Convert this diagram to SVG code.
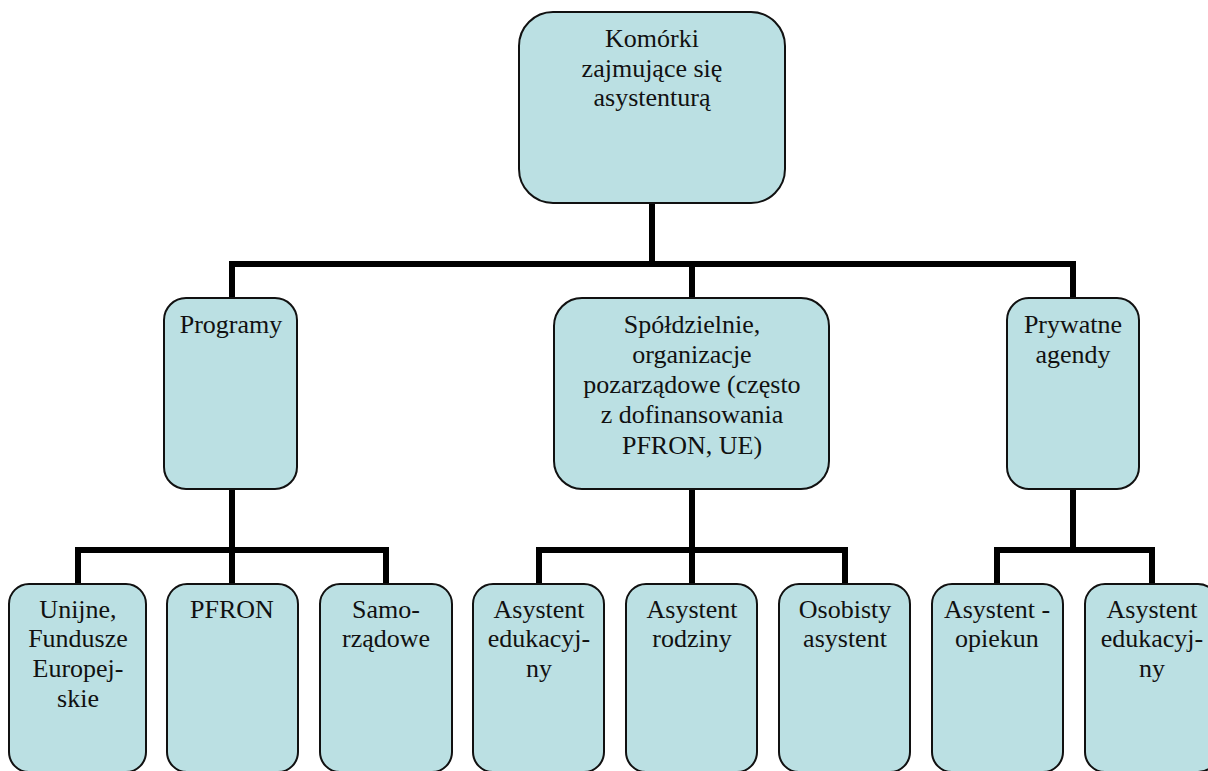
<svg xmlns="http://www.w3.org/2000/svg" width="1208" height="771" viewBox="0 0 1208 771">
  <style>
    .box { fill: #BBE0E3; stroke: #111; stroke-width: 2; }
    .lbl { font-size: 26px; fill: #111; text-anchor: middle; }
    .link { fill: none; stroke: #000; stroke-width: 6; stroke-linejoin: miter; stroke-linecap: butt; }
  </style>
  <rect width="1208" height="771" fill="#fff"/>

  <!-- connectors -->
  <g id="connectors">
    <path class="link" d="M652 203 V264"/>
    <path class="link" d="M232 298 V264 H1073 V298"/>
    <path class="link" d="M692 264 V298"/>
    <path class="link" d="M232 489 V550"/>
    <path class="link" d="M78 584 V550 H386 V584"/>
    <path class="link" d="M232 550 V584"/>
    <path class="link" d="M692 489 V550"/>
    <path class="link" d="M539 584 V550 H845 V584"/>
    <path class="link" d="M692 550 V584"/>
    <path class="link" d="M1073 489 V550"/>
    <path class="link" d="M997 584 V550 H1152 V584"/>
  </g>

  <g font-family="Liberation Serif, DejaVu Serif, serif">
  <!-- root -->
  <g id="root">
    <rect class="box" x="519" y="12" width="266" height="191" rx="34"/>
    <text class="lbl" x="652" y="47">Komórki</text>
    <text class="lbl" x="652" y="77">zajmujące się</text>
    <text class="lbl" x="652" y="106">asystenturą</text>
  </g>

  <!-- second level -->
  <g id="programy">
    <rect class="box" x="164" y="298" width="133" height="191" rx="22"/>
    <text class="lbl" x="231" y="333">Programy</text>
  </g>
  <g id="spoldzielnie">
    <rect class="box" x="554" y="298" width="275" height="191" rx="28"/>
    <text class="lbl" x="692" y="333">Spółdzielnie,</text>
    <text class="lbl" x="692" y="363">organizacje</text>
    <text class="lbl" x="692" y="393">pozarządowe (często</text>
    <text class="lbl" x="692" y="423">z dofinansowania</text>
    <text class="lbl" x="692" y="454">PFRON, UE)</text>
  </g>
  <g id="prywatne">
    <rect class="box" x="1007" y="298" width="132" height="191" rx="22"/>
    <text class="lbl" x="1073" y="333">Prywatne</text>
    <text class="lbl" x="1073" y="363">agendy</text>
  </g>

  <!-- third level -->
  <g id="unijne">
    <rect class="box" x="9" y="584" width="137" height="188" rx="20"/>
    <text class="lbl" x="78" y="618">Unijne,</text>
    <text class="lbl" x="78" y="647">Fundusze</text>
    <text class="lbl" x="78" y="677">Europej-</text>
    <text class="lbl" x="78" y="707">skie</text>
  </g>
  <g id="pfron">
    <rect class="box" x="167" y="584" width="131" height="188" rx="20"/>
    <text class="lbl" x="232" y="618">PFRON</text>
  </g>
  <g id="samorzadowe">
    <rect class="box" x="320" y="584" width="132" height="188" rx="20"/>
    <text class="lbl" x="386" y="618">Samo-</text>
    <text class="lbl" x="386" y="647">rządowe</text>
  </g>
  <g id="asystent-edukacyjny-1">
    <rect class="box" x="473" y="584" width="131" height="188" rx="20"/>
    <text class="lbl" x="539" y="618">Asystent</text>
    <text class="lbl" x="539" y="647">edukacyj-</text>
    <text class="lbl" x="539" y="677">ny</text>
  </g>
  <g id="asystent-rodziny">
    <rect class="box" x="626" y="584" width="131" height="188" rx="20"/>
    <text class="lbl" x="692" y="618">Asystent</text>
    <text class="lbl" x="692" y="647">rodziny</text>
  </g>
  <g id="osobisty-asystent">
    <rect class="box" x="779" y="584" width="131" height="188" rx="20"/>
    <text class="lbl" x="845" y="618">Osobisty</text>
    <text class="lbl" x="845" y="647">asystent</text>
  </g>
  <g id="asystent-opiekun">
    <rect class="box" x="932" y="584" width="131" height="188" rx="20"/>
    <text class="lbl" x="997" y="618">Asystent -</text>
    <text class="lbl" x="997" y="647">opiekun</text>
  </g>
  <g id="asystent-edukacyjny-2">
    <rect class="box" x="1085" y="584" width="133" height="188" rx="20"/>
    <text class="lbl" x="1152" y="618">Asystent</text>
    <text class="lbl" x="1152" y="647">edukacyj-</text>
    <text class="lbl" x="1152" y="677">ny</text>
  </g>
  </g>
</svg>
